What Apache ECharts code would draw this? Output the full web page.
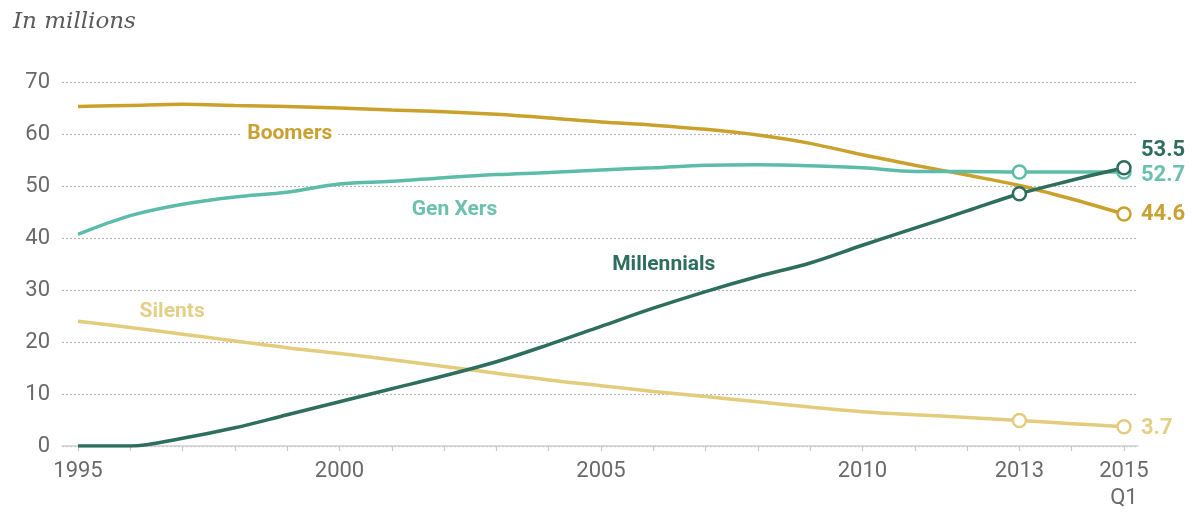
<!DOCTYPE html>
<html>
<head>
<meta charset="utf-8">
<script src="https://cdn.jsdelivr.net/npm/echarts@6/dist/echarts.min.js"></script>
<style>
html,body{margin:0;padding:0;background:#fff;}
#chart{width:1194px;height:512px;}
</style>
</head>
<body>
<div id="chart"></div>
<script>
// ---- data ----
const years = [1995,1996,1997,1998,1999,2000,2001,2002,2003,2004,2005,2006,2007,2008,2009,2010,2011,2012,2013,2014,2015];
const boomers     = [65.3,65.5,65.7,65.5,65.3,65.0,64.6,64.3,63.8,63.1,62.3,61.7,60.9,59.8,58.2,56.0,54.0,52.1,50.1,47.5,44.6];
const genXers     = [40.7,44.3,46.5,47.9,48.8,50.4,50.9,51.6,52.2,52.6,53.1,53.5,54.0,54.1,53.9,53.5,52.8,52.8,52.7,52.7,52.7];
const millennials = [0.0,0.0,1.5,3.5,6.0,8.5,11.0,13.5,16.2,19.5,23.0,26.5,29.7,32.6,35.2,38.6,41.9,45.2,48.5,51.1,53.5];
const silents     = [24.0,22.8,21.5,20.2,18.9,17.8,16.6,15.3,14.0,12.7,11.6,10.5,9.5,8.5,7.5,6.6,6.0,5.5,4.9,4.3,3.7];
const markerYears = {
  'Boomers': [2015],
  'Gen Xers': [2013, 2015],
  'Millennials': [2013, 2015],
  'Silents': [2013, 2015]
};
const xLabelYears = [1995, 2000, 2005, 2010, 2013, 2015];
const seriesNames = ['Boomers','Silents','Gen Xers','Millennials'];
// series name label anchors (year, value)
const nameLabelAnchors = {
  'Boomers': [1999.05, 60.1],
  'Gen Xers': [2002.2, 45.4],
  'Millennials': [2006.2, 34.9],
  'Silents': [1996.8, 25.9]
};

// ---- style ----
const colors = {
  'Boomers': '#C9A12B',
  'Gen Xers': '#5DBCA9',
  'Millennials': '#2D6E5D',
  'Silents': '#E3CC7C'
};
const labelColors = {
  'Boomers': '#C9A133',
  'Gen Xers': '#6CC0AE',
  'Millennials': '#2F6E5E',
  'Silents': '#E4CF86'
};
const endOffsets = {
  'Boomers': [0, 0],
  'Gen Xers': [0, 4],
  'Millennials': [0, -17],
  'Silents': [0, 2]
};
const valuesByName = {
  'Boomers': boomers, 'Gen Xers': genXers, 'Millennials': millennials, 'Silents': silents
};

const chart = echarts.init(document.getElementById('chart'), null, {renderer: 'canvas'});

function makeSeries(name) {
  const vals = valuesByName[name];
  const c = colors[name];
  return {
    name: name,
    type: 'line',
    smooth: 0.35,
    lineStyle: {color: c, width: 3.5},
    itemStyle: {color: '#fff', borderColor: c, borderWidth: 2.5},
    symbol: 'circle',
    symbolSize: 13,
    showAllSymbol: true,
    data: years.map((y, i) => ({
      value: [y, vals[i]],
      symbol: markerYears[name].includes(y) ? 'circle' : 'none'
    })),
    endLabel: {
      show: true,
      formatter: p => p.value[1].toFixed(1),
      color: labelColors[name],
      fontFamily: 'Roboto',
      fontWeight: 'bold',
      fontSize: 22,
      distance: 17,
      offset: endOffsets[name]
    },
    markPoint: {
      symbol: 'circle',
      symbolSize: 0,
      silent: true,
      data: [{
        coord: nameLabelAnchors[name],
        label: {
          show: true,
          position: 'inside',
          formatter: name,
          color: labelColors[name],
          fontFamily: 'Roboto',
          fontWeight: 'bold',
          fontSize: 21,
          backgroundColor: name === 'Boomers' ? '#fff' : 'transparent',
          padding: [2, 6]
        }
      }]
    },
    z: 2,
    animation: false
  };
}

const option = {
  animation: false,
  backgroundColor: '#fff',
  title: {
    text: 'In millions',
    left: 8,
    top: 6,
    textStyle: {
      fontFamily: 'DejaVu Serif',
      fontStyle: 'italic',
      fontWeight: 'normal',
      fontSize: 23,
      color: '#5a5a5a'
    }
  },
  grid: {left: 62, right: 56, top: 82, bottom: 65, containLabel: false},
  xAxis: {
    type: 'value',
    min: 1994.694,
    max: 2015.268,
    axisLine: {show: true, lineStyle: {color: '#cfcfcf', width: 1.5}},
    axisTick: {show: true, customValues: years, length: 5, lineStyle: {color: '#c8c8c8', width: 1.2}},
    axisLabel: {
      customValues: xLabelYears,
      formatter: v => (v === 2015 ? '2015\nQ1' : String(v)),
      fontFamily: 'Roboto',
      fontSize: 22,
      color: '#6a6a6a',
      margin: 12,
      lineHeight: 27
    },
    splitLine: {show: false}
  },
  yAxis: {
    type: 'value',
    min: 0,
    max: 70,
    interval: 10,
    axisLine: {show: false},
    axisTick: {show: false},
    axisLabel: {
      fontFamily: 'Roboto',
      fontSize: 22,
      color: '#6a6a6a',
      margin: 12
    },
    splitLine: {show: true, lineStyle: {color: '#b5b5b5', type: [2, 2], width: 1.2}}
  },
  series: seriesNames.map(makeSeries)
};
chart.setOption(option);
</script>
</body>
</html>
